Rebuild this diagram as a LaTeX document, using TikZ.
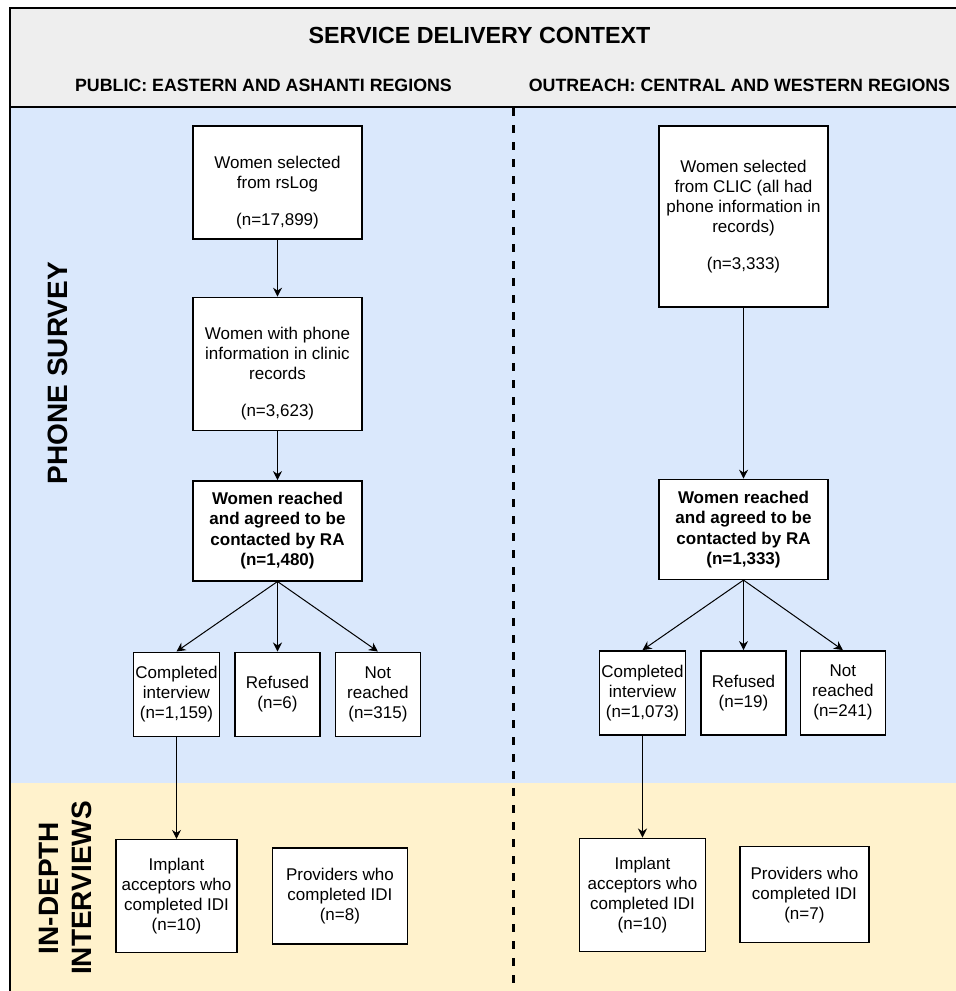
\documentclass[tikz,border=0pt]{standalone}
\usepackage{fontspec}
\setmainfont{Liberation Sans}
\usepackage{tikz}
\usetikzlibrary{arrows.meta,positioning}

\definecolor{headgray}{HTML}{EEEEEE}
\definecolor{surveyblue}{HTML}{DAE8FC}
\definecolor{idiyellow}{HTML}{FFF2CC}

\begin{document}
\begin{tikzpicture}[>={Stealth[length=4.5pt,width=4.5pt]},x=0.5pt,y=-0.5pt,
                    font=\fontsize{8.5}{10}\selectfont]
  \tikzstyle{box}=[draw,fill=white,line width=0.7pt,align=center,inner sep=1pt]
  \tikzstyle{top box}=[box,minimum width=84.5pt]
  \tikzstyle{reach box}=[top box,minimum height=50pt,font=\fontsize{8.5}{10.25}\selectfont\bfseries]
  \tikzstyle{call box}=[box,minimum width=42.5pt,minimum height=42pt]
  \tikzstyle{idi box}=[box,minimum height=56.5pt]
  \tikzstyle{prov box}=[box,minimum height=48pt]
  \tikzstyle{heading}=[font=\fontsize{8.9}{10.5}\selectfont\bfseries]
  \tikzstyle{side label}=[rotate=90,align=center,font=\fontsize{14}{16.5}\selectfont\bfseries]
  \tikzstyle{flow}=[->,line width=0.5pt]

  \useasboundingbox (0,0) rectangle (956,991);

  % header and the two study bands
  \fill[headgray] (10,8) rectangle (960,107);
  \fill[surveyblue] (10,107) rectangle (960,783);
  \fill[idiyellow] (10,783) rectangle (960,1000);
  \draw[line width=1pt] (10,1000) -- (10,8) -- (960,8);
  \draw[line width=1pt] (10,107) -- (960,107);
  \draw[line width=1.5pt,dash pattern=on 4pt off 4.5pt] (513,108) -- (513,1000);

  \node[font=\fontsize{11.65}{14}\selectfont\bfseries] (title) at (479.5,35) {SERVICE DELIVERY CONTEXT};
  \node[heading] (pubhead) at (263.5,85) {PUBLIC: EASTERN AND ASHANTI REGIONS};
  \node[heading] (outhead) at (739.5,85) {OUTREACH: CENTRAL AND WESTERN REGIONS};
  \node[side label] (phone) at (58,373) {PHONE SURVEY};
  \node[side label] (indepth) at (66,888) {IN-DEPTH\\INTERVIEWS};

  % public facilities
  \node[top box,minimum height=56.5pt] (sel1) at (277.5,182.5)
        {\rule{0pt}{16pt}Women selected\\from rsLog\\[8.5pt](n=17,899)};
  \node[top box,minimum height=66.5pt] (phn1) [below=28.5pt of sel1]
        {\rule{0pt}{16pt}Women with phone\\information in clinic\\records\\[8.5pt](n=3,623)};
  \node[reach box] (rch1) [below=24.5pt of phn1]
        {Women reached\\and agreed to be\\contacted by RA\\(n=1,480)};
  \node[call box] (ref1) [below=35pt of rch1] {Refused\\(n=6)};
  \node[call box] (cmp1) [left=7pt of ref1] {Completed\\interview\\(n=1,159)};
  \node[call box] (nrc1) [right=7pt of ref1] {Not\\reached\\(n=315)};
  \node[idi box,minimum width=60.5pt] (imp1) [below=51pt of cmp1]
        {Implant\\acceptors who\\completed IDI\\(n=10)};
  \node[prov box,minimum width=67.5pt] (prv1) [right=17pt of imp1]
        {Providers who\\completed IDI\\(n=8)};

  \draw[flow] (sel1) -- (phn1);
  \draw[flow] (phn1) -- (rch1);
  \draw[flow] (rch1.south) -- (cmp1.north);
  \draw[flow] (rch1.south) -- (ref1.north);
  \draw[flow] (rch1.south) -- (nrc1.north);
  \draw[flow] (cmp1) -- (imp1);

  % outreach
  \node[top box,minimum height=90.5pt] (sel2) at (743.5,216.5)
        {Women selected\\from CLIC (all had\\phone information in\\records)\\[8.5pt](n=3,333)};
  \node[reach box] (rch2) [below=85.5pt of sel2]
        {Women reached\\and agreed to be\\contacted by RA\\(n=1,333)};
  \node[call box] (ref2) [below=35pt of rch2] {Refused\\(n=19)};
  \node[call box] (cmp2) [left=7pt of ref2] {Completed\\interview\\(n=1,073)};
  \node[call box] (nrc2) [right=6.5pt of ref2] {Not\\reached\\(n=241)};
  \node[idi box,minimum width=63pt] (imp2) [below=51pt of cmp2]
        {Implant\\acceptors who\\completed IDI\\(n=10)};
  \node[prov box,minimum width=64.5pt] (prv2) [right=16.5pt of imp2]
        {Providers who\\completed IDI\\(n=7)};

  \draw[flow] (sel2) -- (rch2);
  \draw[flow] (rch2.south) -- (cmp2.north);
  \draw[flow] (rch2.south) -- (ref2.north);
  \draw[flow] (rch2.south) -- (nrc2.north);
  \draw[flow] (cmp2) -- (imp2);
\end{tikzpicture}
\end{document}
